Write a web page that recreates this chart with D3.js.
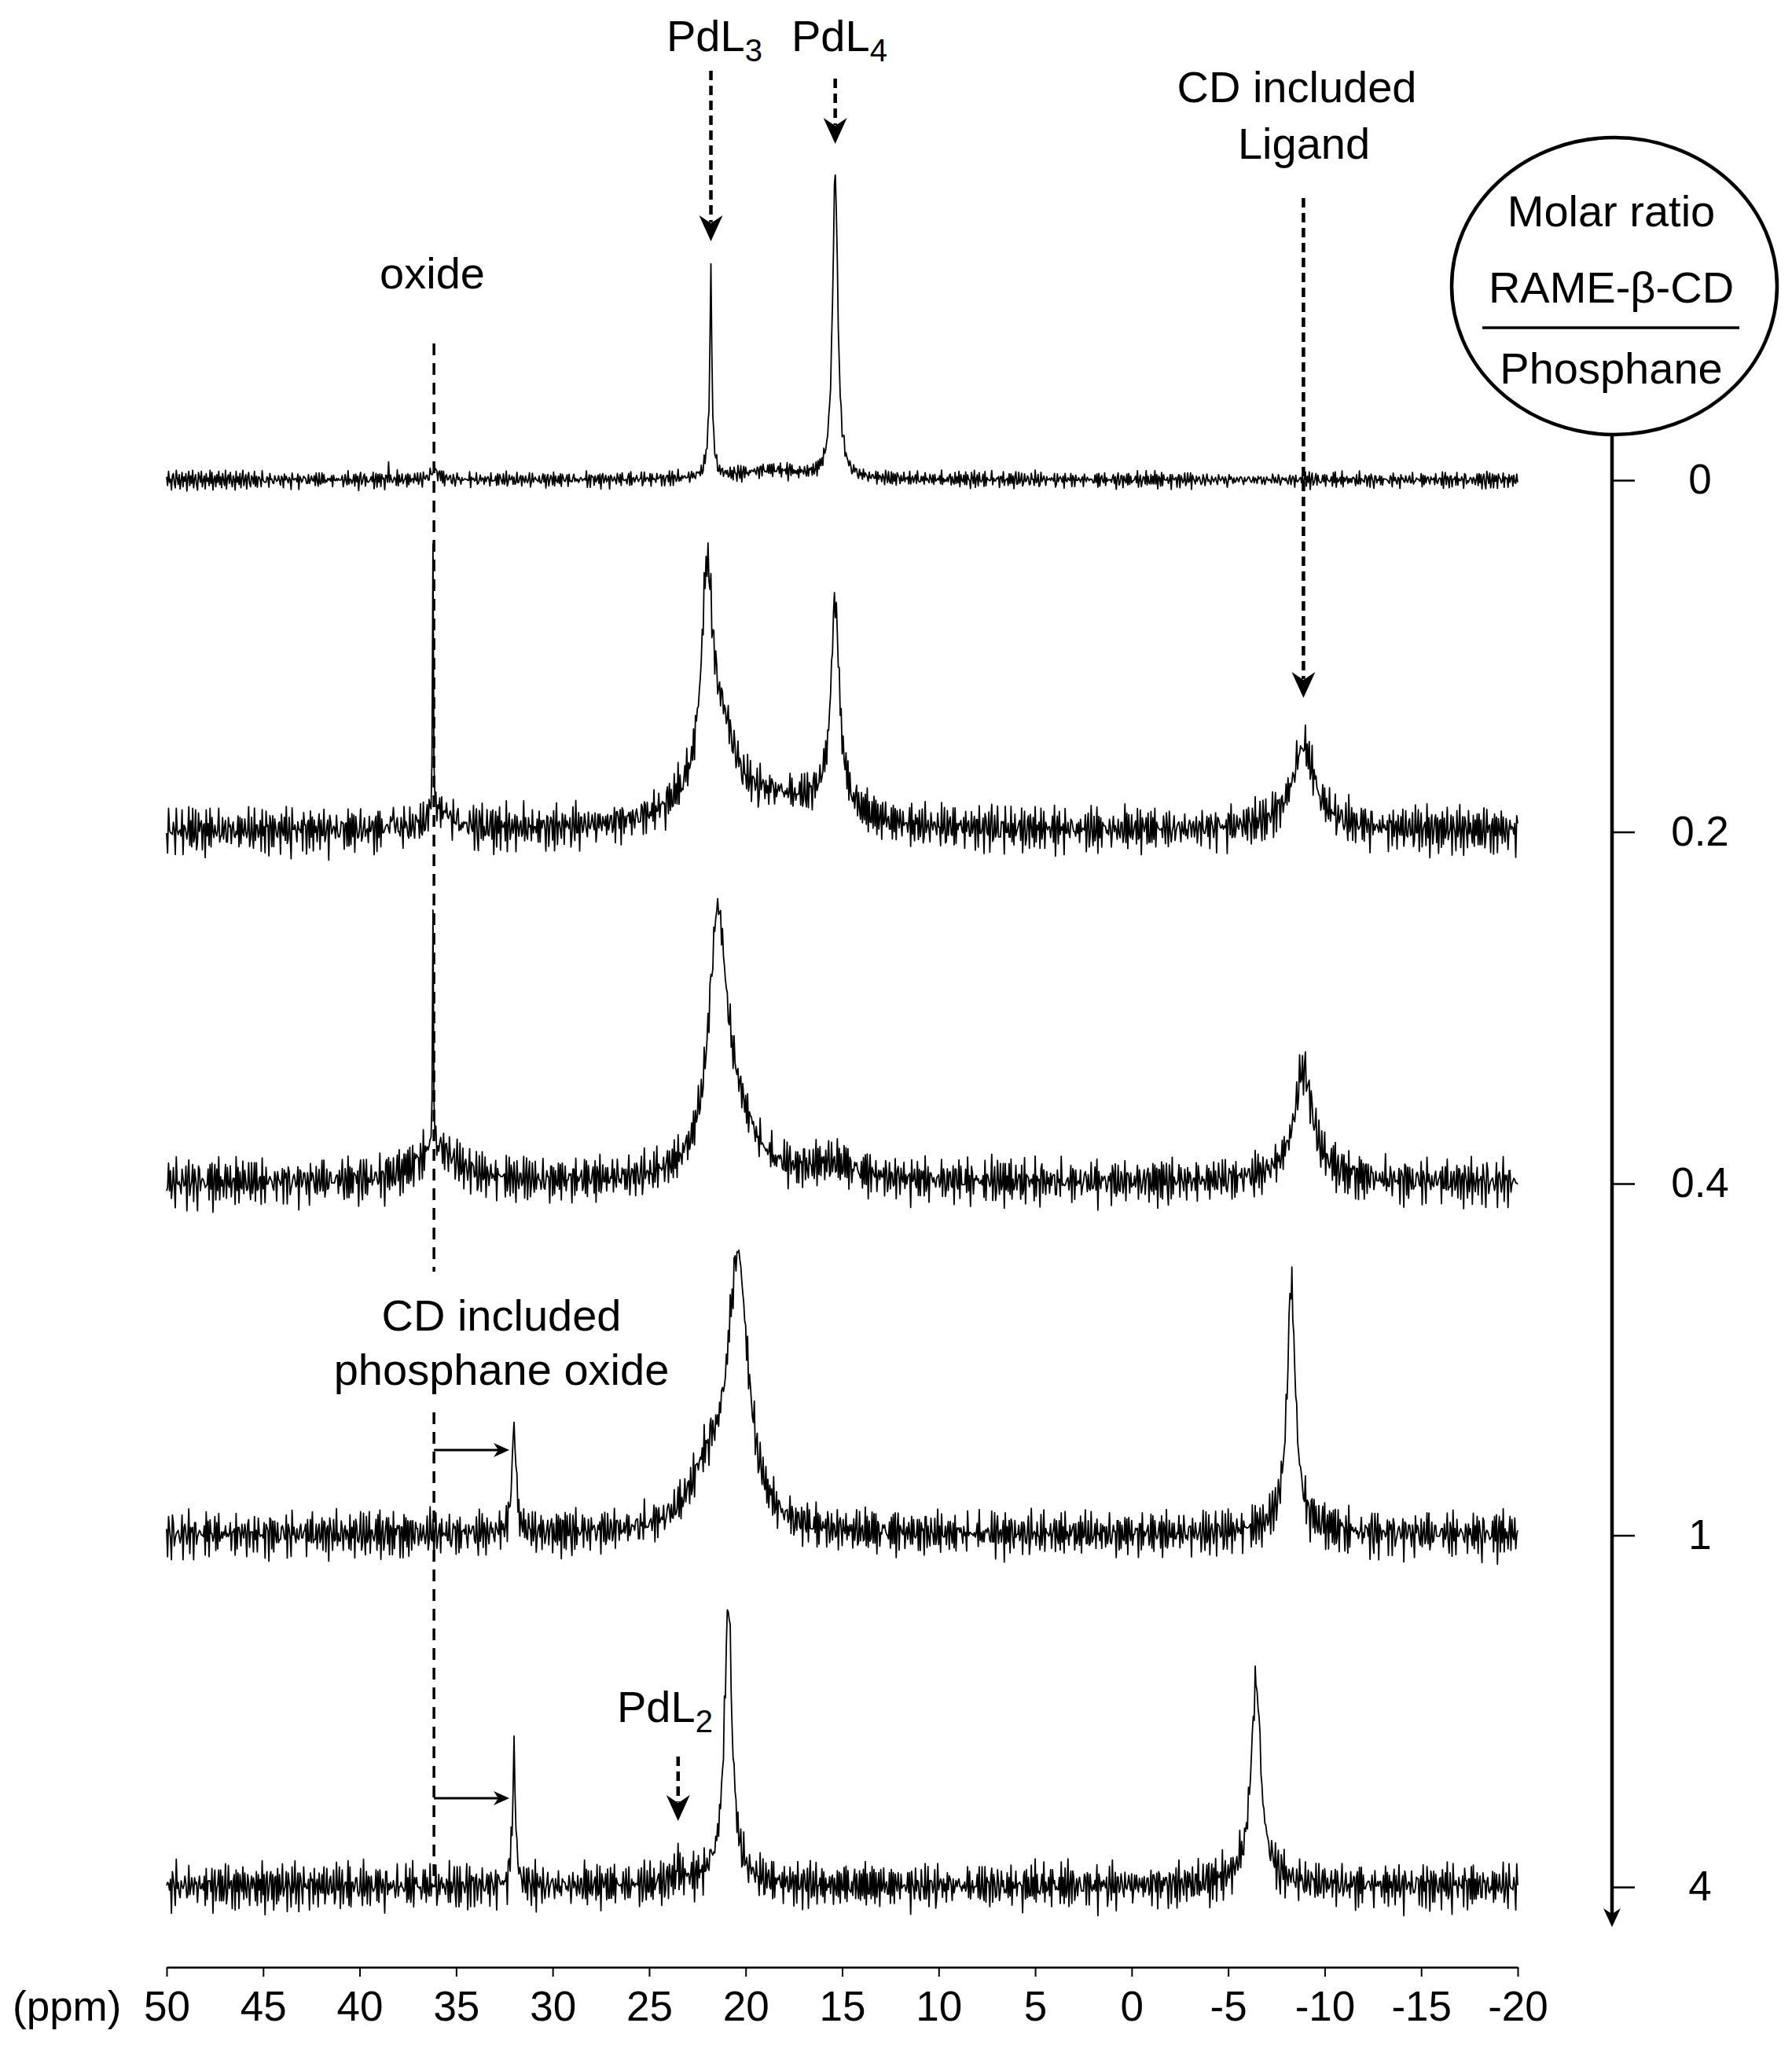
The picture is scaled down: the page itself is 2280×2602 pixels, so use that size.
<!DOCTYPE html>
<meta charset="utf-8">
<style>
    body {
        margin: 0;
        background: white;
    }

    svg {
        display: block;
        font-family: "Liberation Sans", Arial, sans-serif;
    }
</style>
<svg width="2280" height="2602"></svg>
<script src="https://cdn.jsdelivr.net/npm/d3@7"></script>
<script>
    // molar ratio RAME-b-CD / phosphane, one spectrum per ratio
    var ratios = ["0", "0.2", "0.4", "1", "4"];
    var ppmTicks = [50, 45, 40, 35, 30, 25, 20, 15, 10, 5, 0, -5, -10, -15, -20];

    // peaks: [ppm, height (a.u.), width at half height (ppm)]
    var peaks0 = [[38.5, 3.5, 0.05], [36.1, 3, 0.5], [21.8, 57, 0.12], [21.85, 9, 0.4], [18.7, 3, 4], [15.36, 97.5, 0.32]];
    var peaks02 = [[38.3, 10, 0.05], [36.2, 88, 0.05], [35.8, 6, 1.5], [22.5, 7, 4], [22.0, 66, 0.7], [21.2, 22, 1.6],
        [18.5, 8, 5], [15.5, 7, 2.5], [15.36, 63, 0.5], [-8.9, 24, 1.3], [-8.9, 3, 4]];
    var peaks04 = [[36.2, 78, 0.05], [36.0, 11, 2.5], [21.45, 75, 1.1], [20.6, 18, 2.5], [15.5, 5, 3], [-8.9, 33, 1.1], [-9.0, 3, 4]];
    var peaks1 = [[32.0, 35, 0.25], [22.0, 17, 2.2], [20.4, 84, 1.3], [-8.27, 76, 0.5], [-8.3, 4, 2.5]];
    var peaks4 = [[32.0, 44, 0.18], [23.5, 8, 0.05], [23.5, 2, 1.2], [21.0, 7, 1.8], [20.9, 83, 0.45], [-6.44, 62, 0.6], [-6.5, 3, 3]];

    // baseline noise level of each spectrum (a.u.)
    var noiseLevel = [2.5, 7, 7, 7, 7];
    // a stretch of baseline noise, normalised
    var noisePattern = [0.3, -0.5, 0.8, -0.2, 0.1, -0.9, 0.4, 0.6, -0.3, -0.7,
        0.9, 0.2, -0.4, 0.5, -0.8, 0.0, 0.7, -0.6, 0.3, -0.1,
        0.6, -1.0, 0.2, 0.8, -0.5, 0.4, -0.3, 0.9, -0.7, 0.1,
        0.5, -0.4, -0.9, 0.7, 0.3, -0.2, 0.8, -0.6, 0.0, 0.4,
        -0.8, 0.6, -0.1, 0.2, -0.5, 0.9, -0.3, 0.7, -0.9, 0.1,
        0.4, -0.6, 0.5, -0.2, 0.8, -0.4, 0.3, -0.7, 0.6, 0.0,
        -0.5, 0.9, -0.8, 0.2, 0.5, -0.3, 0.7, -0.1, -0.6, 0.4,
        0.1, -0.9, 0.8, -0.2, 0.3, -0.4, 0.6, -0.7, 0.2, 0.9,
        -0.5, 0.0, 0.5, -0.8, 0.3, 0.7, -0.3, -0.6, 0.4, 0.1,
        -0.2, 0.8, -0.9, 0.6, -0.4, 0.2, -0.1];

    var svg = d3.select("svg");

    var x = d3.scaleLinear().domain([50, -20]).range([212, 1931]);
    var yBase = d3.scalePoint().domain(ratios).range([611, 2401]);
    var yInt = d3.scaleLinear().domain([0, 100]).range([0, 400]);

    var spectra = [peaks0, peaks02, peaks04, peaks1, peaks4];
    var step = 0.05;
    var np = noisePattern.length;

    function lorentz(p, ppm) {
        var t = 2 * (ppm - p[0]) / p[2];
        return p[1] / (1 + t * t);
    }

    var line = d3.line()
        .x(function(d) { return x(d.ppm); })
        .y(function(d) { return d.y; });

    spectra.forEach(function(peaks, s) {
        var base = yBase(ratios[s]);
        var grid = d3.range(0, Math.round(70 / step) + 1).map(function(k) { return 50 - k * step; });
        var pts = grid.concat(peaks.map(function(p) { return p[0]; }))
            .sort(function(a, b) { return b - a; });

        var data = pts.map(function(ppm) {
            var k = Math.round((50 - ppm) / step);
            var n = 0.7 * (noisePattern[k % np] + noisePattern[(k + s * 31) % (np - 8)]);
            var v = d3.sum(peaks, function(p) { return lorentz(p, ppm); }) + noiseLevel[s] * n;
            return { ppm: ppm, y: base - yInt(v) };
        });

        svg.append("path")
            .datum(data)
            .attr("d", line)
            .style("fill", "none")
            .style("stroke", "#000")
            .style("stroke-width", 1.8)
            .style("stroke-linejoin", "round");
    });

    // bottom ppm axis
    var xAxis = svg.append("g")
        .attr("transform", "translate(0,2503)")
        .call(d3.axisBottom(x)
            .tickValues(ppmTicks)
            .tickFormat(function(d) { return String(d); })
            .tickSize(12)
            .tickSizeOuter(0)
            .tickPadding(18));
    xAxis.attr("font-size", 53).attr("font-family", "Liberation Sans, Arial, sans-serif");
    xAxis.select(".domain").style("stroke-width", 2.5);
    xAxis.selectAll(".tick line").style("stroke-width", 2);
    xAxis.selectAll(".tick text").style("fill", "#000");

    svg.append("text")
        .attr("x", 16)
        .attr("y", 2571)
        .style("font-size", "53px")
        .text("(ppm)");

    // right axis: molar ratio
    var rAxis = svg.append("g")
        .attr("transform", "translate(2051,0)")
        .call(d3.axisRight(yBase).tickSize(29).tickPadding(10));
    rAxis.attr("font-size", 53).attr("font-family", "Liberation Sans, Arial, sans-serif");
    rAxis.select(".domain").remove();
    rAxis.selectAll(".tick line").style("stroke-width", 2.5);
    rAxis.selectAll(".tick text")
        .attr("text-anchor", "middle")
        .attr("x", 112)
        .style("fill", "#000");

    svg.append("line")
        .attr("x1", 2051).attr("x2", 2051)
        .attr("y1", 553).attr("y2", 2436)
        .style("stroke", "#000")
        .style("stroke-width", 4.5);

    // notched arrow head with tip at (tx, ty); angle in degrees, 90 = pointing down
    function arrowHead(tx, ty, angle, len, half) {
        svg.append("path")
            .attr("d", "M0,0L" + (-len) + "," + (-half) + "L" + (-len * 0.7) + ",0L" + (-len) + "," + half + "Z")
            .attr("transform", "translate(" + tx + "," + ty + ") rotate(" + angle + ")")
            .style("fill", "#000");
    }

    arrowHead(2051, 2452, 90, 24, 11);

    // molar ratio legend
    svg.append("ellipse")
        .attr("cx", 2054).attr("cy", 364)
        .attr("rx", 207).attr("ry", 189)
        .style("fill", "none")
        .style("stroke", "#000")
        .style("stroke-width", 4.5);

    var legend = [
        { text: "Molar ratio", y: 288 },
        { text: "RAME-\u03b2-CD", y: 385 },
        { text: "Phosphane", y: 488 }
    ];
    svg.selectAll(".legend-text")
        .data(legend)
        .enter().append("text")
        .attr("class", "legend-text")
        .attr("x", 2050)
        .attr("y", function(d) { return d.y; })
        .attr("text-anchor", "middle")
        .style("font-size", "56px")
        .text(function(d) { return d.text; });

    svg.append("line")
        .attr("x1", 1886).attr("x2", 2213)
        .attr("y1", 417).attr("y2", 417)
        .style("stroke", "#000")
        .style("stroke-width", 3.5);

    // dashed arrows down onto the peaks
    var downArrows = [
        { ppm: 21.8, y0: 90, y1: 307 },
        { ppm: 15.36, y0: 100, y1: 183 },
        { ppm: -8.9, y0: 252, y1: 888 },
        { ppm: 23.5, y0: 2235, y1: 2317 }
    ];
    downArrows.forEach(function(a) {
        svg.append("line")
            .attr("x1", x(a.ppm)).attr("x2", x(a.ppm))
            .attr("y1", a.y0).attr("y2", a.y1 - 24)
            .style("stroke", "#000")
            .style("stroke-width", 4.5)
            .style("stroke-dasharray", "12,7");
        arrowHead(x(a.ppm), a.y1, 90, 33, 15);
    });

    // oxide dashed line
    var oxX = x(36.15);
    [[437, 1618], [1797, 2395]].forEach(function(seg) {
        svg.append("line")
            .attr("x1", oxX).attr("x2", oxX)
            .attr("y1", seg[0]).attr("y2", seg[1])
            .style("stroke", "#000")
            .style("stroke-width", 3.5)
            .style("stroke-dasharray", "15,10");
    });

    // shift of the oxide in the CD cavity
    [1845, 2288].forEach(function(y) {
        svg.append("line")
            .attr("x1", oxX).attr("x2", x(32.0) - 12)
            .attr("y1", y).attr("y2", y)
            .style("stroke", "#000")
            .style("stroke-width", 3);
        arrowHead(x(32.0) - 6, y, 0, 20, 9);
    });

    // text labels
    var labels = [
        { text: "oxide", x: 550, y: 367 },
        { text: "CD included", x: 638, y: 1693 },
        { text: "phosphane oxide", x: 638, y: 1762 },
        { text: "CD included", x: 1650, y: 130 },
        { text: "Ligand", x: 1659, y: 202 }
    ];
    svg.selectAll(".label")
        .data(labels)
        .enter().append("text")
        .attr("class", "label")
        .attr("x", function(d) { return d.x; })
        .attr("y", function(d) { return d.y; })
        .attr("text-anchor", "middle")
        .style("font-size", "56px")
        .text(function(d) { return d.text; });

    var complexes = [
        { sub: "3", x: 848, y: 65 },
        { sub: "4", x: 1007, y: 65 },
        { sub: "2", x: 785, y: 2191 }
    ];
    complexes.forEach(function(c) {
        var t = svg.append("text")
            .attr("x", c.x)
            .attr("y", c.y)
            .style("font-size", "56px")
            .text("PdL");
        t.append("tspan")
            .attr("dy", 13)
            .style("font-size", "40px")
            .text(c.sub);
    });
</script>
